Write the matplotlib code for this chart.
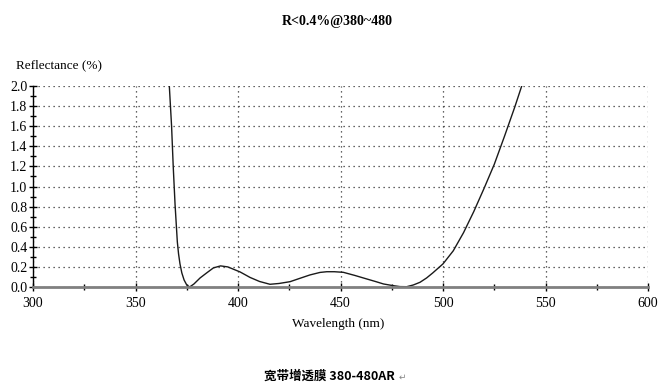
import matplotlib
matplotlib.use("Agg")
import matplotlib.pyplot as plt
from matplotlib.ticker import MultipleLocator

# reflectance curve (nm, %)
wavelength = [366.3, 366.5, 367.6, 368.4, 369.3, 370.4, 371.0, 371.7, 372.6,
              373.7, 375.0, 376.4, 378.5, 381.5, 384.7, 388.0, 391.5, 395.0,
              398.0, 401.0, 405.9, 410.5, 415.6, 420.0, 425.4, 430.0, 435.1,
              440.0, 443.3, 447.0, 451.4, 457.0, 462.8, 467.0, 471.0, 475.8,
              479.0, 482.3, 485.5, 488.8, 492.0, 495.0, 500.0, 505.0, 510.0,
              515.0, 520.0, 525.0, 530.0, 535.0, 538.4, 539.5]
reflectance = [2.05, 2.00, 1.60, 1.20, 0.82, 0.45, 0.33, 0.23, 0.14,
               0.07, 0.02, 0.00, 0.03, 0.09, 0.14, 0.19, 0.21, 0.20,
               0.175, 0.15, 0.095, 0.055, 0.027, 0.035, 0.053, 0.085, 0.12,
               0.145, 0.152, 0.152, 0.146, 0.115, 0.08, 0.055, 0.03, 0.013,
               0.004, 0.003, 0.02, 0.047, 0.09, 0.14, 0.23, 0.36, 0.54,
               0.75, 0.98, 1.22, 1.50, 1.79, 2.00, 2.07]

title = "R<0.4%@380~480"
ylabel = "Reflectance (%)"
xlabel = "Wavelength (nm)"
caption = "宽带增透膜 380-480AR"

serif = "Liberation Serif"

fig = plt.figure(figsize=(6.68, 3.90), dpi=100)
ax = fig.add_axes([33 / 668, 1 - 287 / 390, 615 / 668, 201 / 390])

ax.plot(wavelength, reflectance, color="#1a1a1a", lw=1.0)
ax.set_xlim(300, 600)
ax.set_ylim(0, 2.0)

ax.xaxis.set_major_locator(MultipleLocator(50))
ax.xaxis.set_minor_locator(MultipleLocator(25))
ax.yaxis.set_major_locator(MultipleLocator(0.2))
ax.yaxis.set_minor_locator(MultipleLocator(0.1))
ax.yaxis.set_major_formatter(lambda v, p: f"{v:.1f}")

ax.grid(True, which="major", color="#333333", lw=0.9, ls=(0, (1, 3)))
for s in ("top", "right"):
    ax.spines[s].set_visible(False)
ax.spines["left"].set_color("black")
ax.spines["left"].set_linewidth(1.0)
ax.spines["bottom"].set_color("#808080")
ax.spines["bottom"].set_linewidth(2.0)

ax.tick_params(which="major", direction="inout", length=6, width=1.0,
               labelsize=10, pad=1)
ax.tick_params(which="minor", direction="inout", length=5, width=1.0)
ax.tick_params(axis="x", pad=4)
for lab in ax.get_xticklabels() + ax.get_yticklabels():
    lab.set_fontfamily(serif)

fig.text(337 / 668, 1 - 21 / 390, title, ha="center", va="center",
         fontsize=10, fontweight="bold", family=serif)
fig.text(16 / 668, 1 - 65 / 390, ylabel, ha="left", va="center",
         fontsize=9.5, family=serif)
fig.text(338 / 668, 1 - 324 / 390, xlabel, ha="center", va="center",
         fontsize=9.5, family=serif)
fig.text(264 / 668, 1 - 376 / 390, caption, ha="left", va="center",
         fontsize=9, fontweight="bold",
         family=["Noto Sans CJK SC", "DejaVu Sans"])
fig.text(399 / 668, 1 - 377 / 390, "↵", ha="left", va="center",
         fontsize=6.5, color="#888888", family="DejaVu Sans")

fig.savefig("out.png", dpi=100)
